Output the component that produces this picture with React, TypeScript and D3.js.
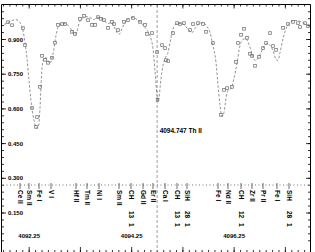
import React from "react";
import * as d3 from "d3";

// synthetic spectrum (wavelength in A, normalised flux)
const synthWave = [
  4091.759, 4091.837, 4091.915, 4091.993, 4092.071, 4092.129, 4092.168, 4092.207, 4092.246, 4092.285,
  4092.325, 4092.364, 4092.403, 4092.432, 4092.461, 4092.481, 4092.5, 4092.539, 4092.578, 4092.617,
  4092.656, 4092.695, 4092.734, 4092.773, 4092.812, 4092.871, 4092.93, 4092.988, 4093.047, 4093.105,
  4093.144, 4093.183, 4093.222, 4093.281, 4093.359, 4093.437, 4093.515, 4093.574, 4093.652, 4093.71,
  4093.788, 4093.847, 4093.905, 4093.964, 4094.003, 4094.061, 4094.12, 4094.198, 4094.276, 4094.354,
  4094.432, 4094.51, 4094.569, 4094.627, 4094.666, 4094.705, 4094.745, 4094.764, 4094.784, 4094.823,
  4094.862, 4094.901, 4094.959, 4094.998, 4095.037, 4095.076, 4095.135, 4095.213, 4095.291, 4095.369,
  4095.428, 4095.486, 4095.564, 4095.642, 4095.72, 4095.779, 4095.837, 4095.896, 4095.935, 4095.974,
  4096.013, 4096.052, 4096.091, 4096.13, 4096.189, 4096.247, 4096.306, 4096.364, 4096.423, 4096.481,
  4096.54, 4096.598, 4096.657, 4096.716, 4096.774, 4096.833, 4096.891, 4096.95, 4097.008, 4097.067,
  4097.106, 4097.145, 4097.204, 4097.262, 4097.34, 4097.418, 4097.496, 4097.574, 4097.652, 4097.73,
];
const synthFlux = [
  0.965, 0.973, 0.982, 0.986, 0.973, 0.939, 0.887, 0.818, 0.723, 0.637,
  0.572, 0.534, 0.516, 0.525, 0.603, 0.702, 0.775, 0.818, 0.822, 0.809,
  0.797, 0.818, 0.861, 0.917, 0.952, 0.965, 0.969, 0.965, 0.952, 0.93,
  0.922, 0.934, 0.969, 0.991, 0.999, 0.995, 0.986, 0.995, 0.991, 0.982,
  0.969, 0.973, 0.956, 0.93, 0.922, 0.947, 0.973, 0.991, 0.995, 0.986,
  0.973, 0.952, 0.934, 0.904, 0.861, 0.766, 0.659, 0.633, 0.65, 0.732,
  0.788, 0.818, 0.844, 0.887, 0.93, 0.956, 0.969, 0.969, 0.96, 0.939,
  0.93, 0.947, 0.969, 0.973, 0.956, 0.93, 0.874, 0.801, 0.702, 0.616,
  0.568, 0.585, 0.646, 0.68, 0.689, 0.732, 0.797, 0.874, 0.9, 0.904,
  0.878, 0.84, 0.809, 0.818, 0.844, 0.87, 0.883, 0.874, 0.853, 0.814,
  0.809, 0.844, 0.904, 0.947, 0.973, 0.982, 0.982, 0.973, 0.965, 0.952,
];

// observed points
const obsWave = [
  4091.837, 4091.915, 4092.129, 4092.168, 4092.305, 4092.383, 4092.403, 4092.461, 4092.5, 4092.559,
  4092.617, 4092.695, 4092.754, 4092.812, 4092.89, 4092.949, 4093.086, 4093.144, 4093.242, 4093.32,
  4093.398, 4093.476, 4093.535, 4093.593, 4093.652, 4093.71, 4093.788, 4093.866, 4093.905, 4093.983,
  4094.1, 4094.178, 4094.276, 4094.413, 4094.51, 4094.549, 4094.647, 4094.745, 4094.755, 4094.842,
  4094.901, 4094.92, 4094.959, 4095.057, 4095.135, 4095.193, 4095.271, 4095.389, 4095.447, 4095.545,
  4095.642, 4095.701, 4095.837, 4095.993, 4096.052, 4096.111, 4096.208, 4096.286, 4096.325, 4096.384,
  4096.442, 4096.501, 4096.559, 4096.598, 4096.657, 4096.735, 4096.813, 4096.872, 4096.95, 4097.008,
  4097.067, 4097.204, 4097.301, 4097.399, 4097.496, 4097.535, 4097.633, 4097.691,
];
const obsFlux = [
  0.975, 0.962, 0.949, 0.876, 0.604, 0.522, 0.565, 0.695, 0.829, 0.812,
  0.799, 0.821, 0.886, 0.963, 0.967, 0.967, 0.933, 0.924, 0.989, 1.002,
  0.984, 0.963, 0.963, 0.997, 0.989, 0.984, 0.95, 0.976, 0.967, 0.941,
  0.976, 0.984, 0.993, 0.976, 0.963, 0.924, 0.928, 0.846, 0.639, 0.876,
  0.863, 0.811, 0.807, 0.928, 0.971, 0.967, 0.971, 0.941, 0.967, 0.971,
  0.967, 0.933, 0.885, 0.574, 0.682, 0.69, 0.695, 0.803, 0.885, 0.92,
  0.946, 0.907, 0.838, 0.829, 0.786, 0.825, 0.863, 0.885, 0.928, 0.872,
  0.855, 0.95, 0.967, 0.976, 0.971, 0.954, 0.971, 0.958,
];

// line identifications
const lineWave = [
  4092.071, 4092.246, 4092.442, 4092.676, 4093.164, 4093.378, 4093.613, 4094.003, 4094.237, 4094.471,
  4094.666, 4094.901, 4095.135, 4095.33, 4095.935, 4096.13, 4096.384, 4096.598, 4096.813, 4097.086,
  4097.321,
];
const lineSpecies = [
  "Ce II", "Sm II", "Fe I", "V I", "Hf II", "Tm II", "Ni I", "Sm II", "CH", "Gd II",
  "Er II", "Ca I", "CH", "SiH", "Fe I", "Nd II", "CH", "Zr II", "Pr II", "Fe I",
  "SiH",
];
const lineBand = ["", "", "", "", "", "", "", "", "13", "", "", "", "13", "28", "", "", "12", "", "", "", "28"];

const markedWave = 4094.747;
const markedLabel = "4094.747  Th II";
const yTicks = [0.15, 0.3, 0.45, 0.6, 0.75, 0.9];
const xLabels = [4092.25, 4094.25, 4096.25];

const W = 315;
const H = 252;
const font = "'Liberation Sans', Arial, sans-serif";

export default function App() {
  const x = d3.scaleLinear().domain([4091.7, 4097.75]).range([1, 311]);
  const y = d3.scaleLinear().domain([0, 1.05]).range([247.7, 4.8]);

  const synth = synthWave.map((w, i) => [w, synthFlux[i]] as [number, number]);
  const line = d3
    .line<[number, number]>()
    .x((d) => x(d[0]))
    .y((d) => y(d[1]))
    .curve(d3.curveMonotoneX);

  const minorY = d3.range(0.03, 1.05, 0.03);
  const topMinor = d3.range(4091.75, 4097.75, 0.125);
  const topMajor = d3.range(4092.25, 4097.75, 1);
  const idY = 185;

  const rot = (w: number, off: number) => `translate(${x(w)},${idY + off}) rotate(90)`;

  return (
    <svg width={W} height={H} style={{ position: "absolute", left: 0, top: 0, background: "#fff" }}>
      {/* frame */}
      <path d={`M1.5,${H} V4.5 H310.5 V${H}`} fill="none" stroke="#000" strokeWidth={1} />

      {/* y ticks */}
      {minorY.map((v, i) => (
        <g key={"my" + i} stroke="#000" strokeWidth={0.8}>
          <line x1={1.5} x2={4} y1={y(v)} y2={y(v)} />
          <line x1={308} x2={310.5} y1={y(v)} y2={y(v)} />
        </g>
      ))}
      {yTicks.map((v) => (
        <g key={"y" + v}>
          <line x1={1.5} x2={6} y1={y(v)} y2={y(v)} stroke="#000" strokeWidth={0.8} />
          <line x1={306} x2={310.5} y1={y(v)} y2={y(v)} stroke="#000" strokeWidth={0.8} />
          <text x={8} y={y(v)} dy="0.35em" fontSize={6} fontWeight="bold" fontFamily={font} fill="#000">
            {v.toFixed(3)}
          </text>
        </g>
      ))}

      {/* top and bottom ticks */}
      {topMinor.map((w, i) => (
        <g key={"tx" + i} stroke="#000" strokeWidth={0.8}>
          <line x1={x(w)} x2={x(w)} y1={4.5} y2={6.5} />
          <line x1={x(w)} x2={x(w)} y1={H} y2={H - 2} />
        </g>
      ))}
      {topMajor.map((w, i) => (
        <g key={"tM" + i} stroke="#000" strokeWidth={0.8}>
          <line x1={x(w)} x2={x(w)} y1={4.5} y2={8.5} />
          <line x1={x(w)} x2={x(w)} y1={H} y2={H - 5} />
        </g>
      ))}
      {xLabels.map((w) => (
        <text key={"xl" + w} x={x(w)} y={236} dy="0.35em" textAnchor="middle" fontSize={6} fontWeight="bold" fontFamily={font} fill="#000">
          {w.toFixed(2)}
        </text>
      ))}

      {/* marked line */}
      <line x1={x(markedWave)} x2={x(markedWave)} y1={5} y2={H} stroke="#888" strokeWidth={0.8} strokeDasharray="3,2" />
      <text x={x(markedWave) + 2.5} y={131} dy="0.35em" fontSize={6.5} fontWeight="bold" fontFamily={font} fill="#000">
        {markedLabel}
      </text>

      {/* synthetic */}
      <path d={line(synth) ?? ""} fill="none" stroke="#777" strokeWidth={0.8} strokeDasharray="2.5,1.8" />

      {/* observed */}
      {obsWave.map((w, i) => (
        <rect key={"o" + i} x={x(w) - 1.3} y={y(obsFlux[i]) - 1.3} width={2.6} height={2.6} fill="none" stroke="#666" strokeWidth={0.7} />
      ))}

      {/* line identifications */}
      <line x1={3} x2={309} y1={idY} y2={idY} stroke="#777" strokeWidth={1} strokeDasharray="1,2.5" />
      {lineWave.map((w, i) => (
        <g key={"id" + i}>
          <line x1={x(w)} x2={x(w)} y1={idY - 2} y2={idY + 4} stroke="#444" strokeWidth={0.8} />
          <text transform={rot(w, 5)} dy="0.35em" fontSize={6.5} fontWeight="bold" fontFamily={font} fill="#000">
            {lineSpecies[i]}
          </text>
          {lineBand[i] && (
            <>
              <text transform={rot(w, 26)} dy="0.35em" fontSize={6.5} fontWeight="bold" fontFamily={font} fill="#000">
                {lineBand[i]}
              </text>
              <text transform={rot(w, 38)} dy="0.35em" fontSize={6.5} fontWeight="bold" fontFamily={font} fill="#000">
                1
              </text>
            </>
          )}
        </g>
      ))}
    </svg>
  );
}
